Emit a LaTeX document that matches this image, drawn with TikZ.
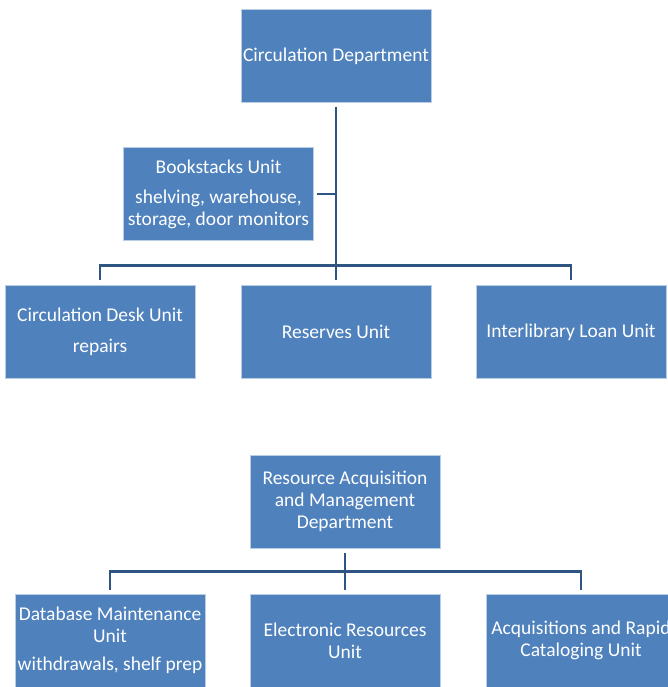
\documentclass[tikz,border=0pt]{standalone}
\usepackage{fontspec}
\setmainfont{Carlito}
\definecolor{boxblue}{RGB}{79,129,189}
\definecolor{linkblue}{RGB}{46,84,130}

\begin{document}
\begin{tikzpicture}[
	unit/.style={rectangle, fill=boxblue, draw=white!60!boxblue, line width=0.6pt,
		minimum width=190pt, minimum height=93pt, inner sep=0pt, align=center,
		text=white, font=\fontsize{19.5}{22}\selectfont},
	link/.style={draw=linkblue, line width=2.6pt}]
			\useasboundingbox (0,0) rectangle (668pt,-687pt);

			\node[unit] (1) at (336pt,-56pt) {Circulation Department};
			\node[unit] (2) at (218.5pt,-194pt) {Bookstacks Unit\\[8pt]shelving, warehouse,\\storage, door monitors};
			\node[unit] (3) [below of=1, node distance=276pt] {Reserves Unit};
			\node[unit] (4) [left of=3, node distance=236pt] {Circulation Desk Unit\\[9pt]repairs};
			\node[unit] (5) [right of=3, node distance=235pt] {Interlibrary Loan Unit};

			\node[unit] (6) at (345pt,-501.5pt) {Resource Acquisition\\and Management\\Department};
			\node[unit] (7) [below of=6, node distance=139pt] {Electronic Resources\\Unit};
			\node[unit] (8) [left of=7, node distance=235pt] {Database Maintenance\\Unit\\[6pt]withdrawals, shelf prep};
			\node[unit] (9) [right of=7, node distance=236pt] {Acquisitions and Rapid\\Cataloging Unit};

			\path[link]
			  ([yshift=-4pt]1.south) -- ([yshift=5pt]3.north)
			  ([xshift=3pt]2.east) -- (2.east -| 1.south)
			  ([yshift=5pt]4.north) -- ++(0,15pt) -| ([yshift=5pt]5.north)
			  ([yshift=-5pt]6.south) -- ([yshift=4pt]7.north)
			  ([yshift=4pt]8.north) -- ++(0,18pt) -| ([yshift=4pt]9.north);

		  \end{tikzpicture}
\end{document}
